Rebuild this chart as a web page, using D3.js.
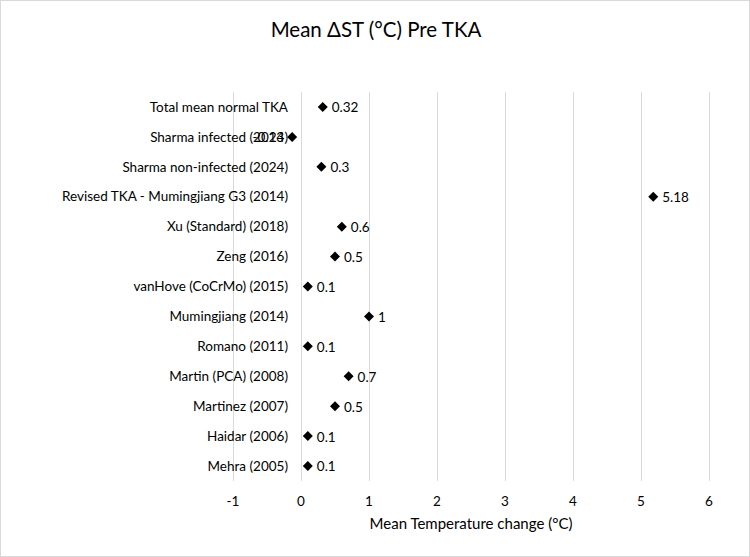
<!DOCTYPE html>
<html>
<head>
    <script src="https://d3js.org/d3.v7.min.js"></script>
    <style>
        body { margin: 0; background: #fff; }
        svg text { font-family: Lato, "Open Sans", sans-serif; fill: #000; }
        .grid line { stroke: #d9d9d9; stroke-width: 1px; }
    </style>
</head>
<body>
    <svg width="750" height="557"></svg>
    <script>
        // categories listed top to bottom
        var studies = [
            "Total mean normal TKA",
            "Sharma infected (2024)",
            "Sharma non-infected (2024)",
            "Revised TKA - Mumingjiang G3 (2014)",
            "Xu (Standard) (2018)",
            "Zeng (2016)",
            "vanHove (CoCrMo) (2015)",
            "Mumingjiang (2014)",
            "Romano (2011)",
            "Martin (PCA) (2008)",
            "Martinez (2007)",
            "Haidar (2006)",
            "Mehra (2005)"
        ];
        var meanChange = [0.32, -0.13, 0.3, 5.18, 0.6, 0.5, 0.1, 1, 0.1, 0.7, 0.5, 0.1, 0.1];
        var xTicks = [-1, 0, 1, 2, 3, 4, 5, 6];

        var svg = d3.select("svg"),
            width = +svg.attr("width"),
            height = +svg.attr("height");

        svg.append("rect")
            .attr("x", 0.5).attr("y", 0.5)
            .attr("width", width - 1).attr("height", height - 1)
            .attr("fill", "#fff").attr("stroke", "#d9d9d9");

        var x = d3.scaleLinear().domain([-1, 6]).range([233, 709]);
        var y = d3.scaleBand().domain(studies).range([92, 481]);

        // vertical gridlines
        svg.append("g").attr("class", "grid")
            .selectAll("line")
            .data(xTicks)
            .enter().append("line")
            .attr("x1", function(d) { return Math.round(x(d)) + 0.5; })
            .attr("x2", function(d) { return Math.round(x(d)) + 0.5; })
            .attr("y1", 92).attr("y2", 481);

        // x tick labels
        svg.append("g")
            .selectAll("text")
            .data(xTicks)
            .enter().append("text")
            .attr("x", function(d) { return x(d); })
            .attr("y", 506)
            .attr("text-anchor", "middle")
            .style("font-size", "13.5px")
            .text(function(d) { return d; });

        // category labels
        svg.append("g")
            .selectAll("text")
            .data(studies)
            .enter().append("text")
            .attr("x", 288)
            .attr("y", function(d) { return y(d) + y.bandwidth() / 2; })
            .attr("dy", "0.35em")
            .attr("text-anchor", "end")
            .style("font-size", "13.5px")
            .text(function(d) { return d; });

        var points = studies.map(function(s, i) { return { name: s, v: meanChange[i] }; });

        // diamonds
        svg.append("g")
            .selectAll("path")
            .data(points)
            .enter().append("path")
            .attr("d", "M0,-5L5,0L0,5L-5,0Z")
            .attr("fill", "#000")
            .attr("transform", function(d) {
                return "translate(" + x(d.v) + "," + (y(d.name) + y.bandwidth() / 2) + ")";
            });

        // value labels
        svg.append("g")
            .selectAll("text")
            .data(points)
            .enter().append("text")
            .attr("x", function(d) { return d.v < 0 ? x(d.v) - 8 : x(d.v) + 9; })
            .attr("y", function(d) { return y(d.name) + y.bandwidth() / 2; })
            .attr("dy", "0.4em")
            .attr("text-anchor", function(d) { return d.v < 0 ? "end" : "start"; })
            .style("font-size", "13.5px")
            .text(function(d) { return d.v; });

        svg.append("text")
            .attr("x", 376)
            .attr("y", 37)
            .attr("text-anchor", "middle")
            .style("font-size", "20.5px")
            .text("Mean \u0394ST (\u00b0C) Pre TKA");

        svg.append("text")
            .attr("x", (x(-1) + x(6)) / 2)
            .attr("y", 529)
            .attr("text-anchor", "middle")
            .style("font-size", "15px")
            .text("Mean Temperature change (\u00b0C)");
    </script>
</body>
</html>
